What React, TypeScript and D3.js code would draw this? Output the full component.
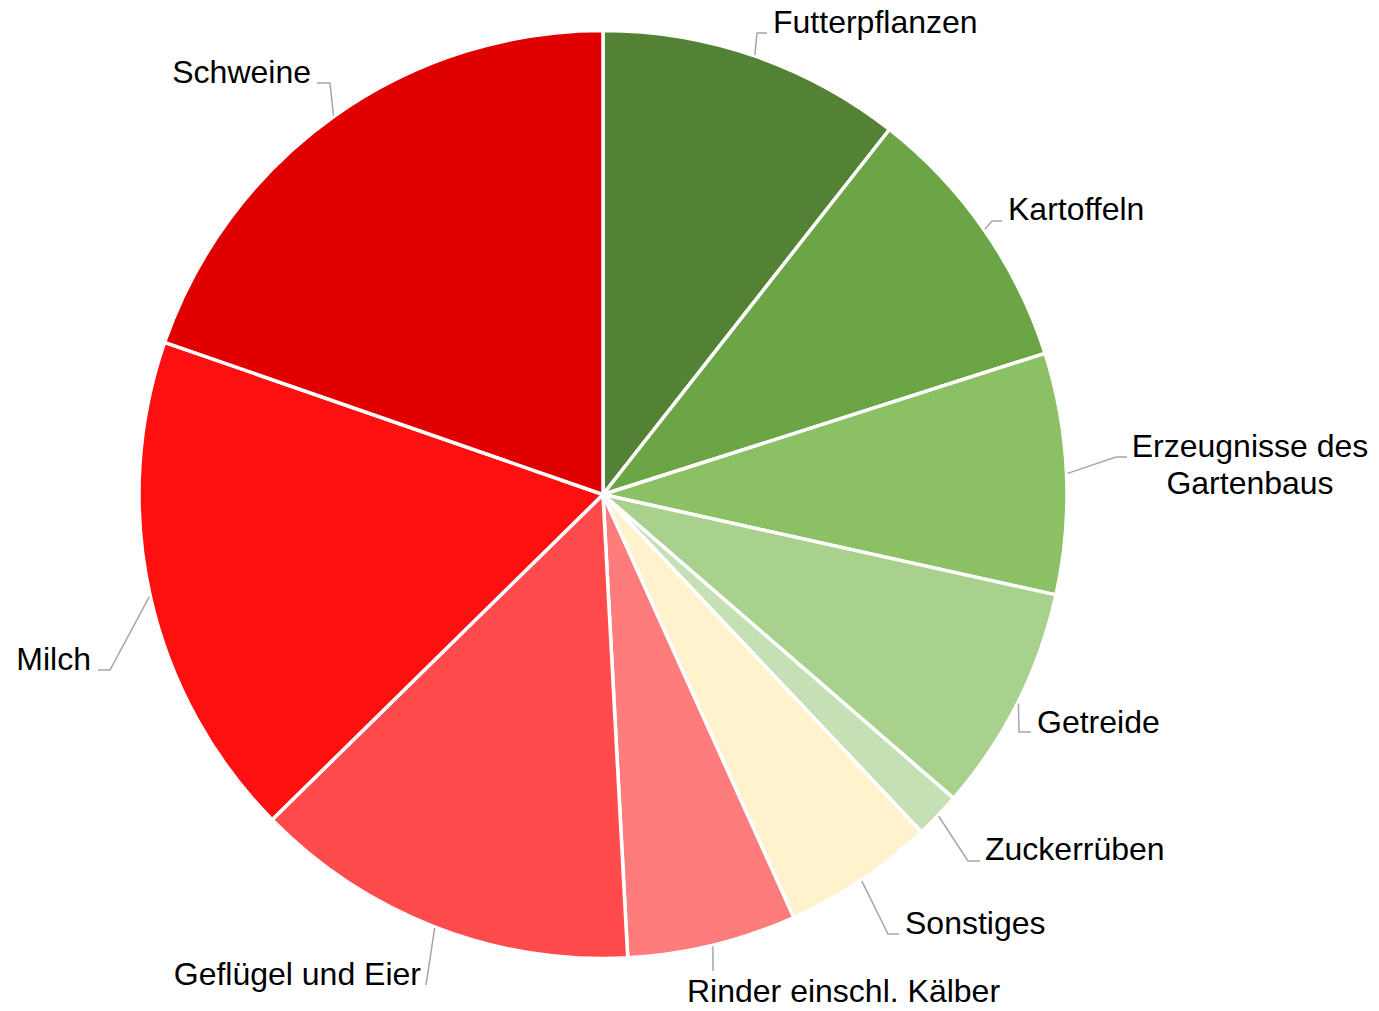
import React from "react";
import * as d3 from "d3";

const categories = [
  "Futterpflanzen",
  "Kartoffeln",
  "Erzeugnisse des Gartenbaus",
  "Getreide",
  "Zuckerrüben",
  "Sonstiges",
  "Rinder einschl. Kälber",
  "Geflügel und Eier",
  "Milch",
  "Schweine",
];
const values = [10.6, 9.5, 8.4, 7.9, 1.6, 5.3, 5.9, 13.5, 17.7, 19.7];
const labelTexts = [
  ["Futterpflanzen"],
  ["Kartoffeln"],
  ["Erzeugnisse des", "Gartenbaus"],
  ["Getreide"],
  ["Zuckerrüben"],
  ["Sonstiges"],
  ["Rinder einschl. Kälber"],
  ["Geflügel und Eier"],
  ["Milch"],
  ["Schweine"],
];
const colors = [
  "#548235",
  "#6ca545",
  "#8bc064",
  "#a9d18e",
  "#c5e0b4",
  "#fff2cc",
  "#ff7c7c",
  "#ff4b4b",
  "#ff1010",
  "#e00000",
];

// label layout (leader elbow, horizontal end, text anchor)
type Lay = { elbow: [number, number]; end: [number, number] | null; tx: number; ty: number; anchor: string };
const layout: Lay[] = [
  { elbow: [757, 33], end: [767, 33], tx: 773, ty: 33, anchor: "start" },
  { elbow: [992, 221], end: [1002, 221], tx: 1008, ty: 220, anchor: "start" },
  { elbow: [1116, 457], end: [1127, 457], tx: 1250, ty: 457, anchor: "middle" },
  { elbow: [1019, 732], end: [1031, 732], tx: 1037, ty: 733, anchor: "start" },
  { elbow: [968, 861], end: [980, 861], tx: 985, ty: 860, anchor: "start" },
  { elbow: [888, 934], end: [899, 934], tx: 905, ty: 934, anchor: "start" },
  { elbow: [713, 971], end: null, tx: 687, ty: 1002, anchor: "start" },
  { elbow: [426, 985], end: null, tx: 421, ty: 985, anchor: "end" },
  { elbow: [110, 670], end: [98, 670], tx: 91, ty: 670, anchor: "end" },
  { elbow: [330, 83], end: [317, 83], tx: 311, ty: 83, anchor: "end" },
];

const W = 1379;
const H = 1011;
const cx = 603;
const cy = 494.5;
const R = 464;

export default function App() {
  const data = categories.map((c, i) => ({ name: c, value: values[i] }));
  const pie = d3
    .pie<{ name: string; value: number }>()
    .sort(null)
    .value((d) => d.value)
    .startAngle(0)
    .endAngle(2 * Math.PI);
  const arcs = pie(data);
  const arc = d3
    .arc<d3.PieArcDatum<{ name: string; value: number }>>()
    .innerRadius(0)
    .outerRadius(R);

  return (
    <div style={{ position: "absolute", left: 0, top: 0 }}>
      <svg width={W} height={H} style={{ display: "block", background: "#fff" }}>
        <g transform={`translate(${cx},${cy})`}>
          {arcs.map((a, i) => (
            <path key={i} d={arc(a) || ""} fill={colors[i]} stroke="#ffffff" strokeWidth={3.5} strokeLinejoin="round" />
          ))}
        </g>
        {arcs.map((a, i) => {
          const mid = (a.startAngle + a.endAngle) / 2;
          const sx = cx + Math.sin(mid) * (R + 1);
          const sy = cy - Math.cos(mid) * (R + 1);
          const L = layout[i];
          const pts: [number, number][] = [[sx, sy], L.elbow];
          if (L.end) pts.push(L.end);
          const line = d3.line()(pts) || "";
          return <path key={"l" + i} d={line} fill="none" stroke="#a6a6a6" strokeWidth={1.5} />;
        })}
        {arcs.map((a, i) => {
          const L = layout[i];
          return (
            <text
              key={"t" + i}
              x={L.tx}
              y={L.ty}
              textAnchor={L.anchor}
              fontFamily="Liberation Sans, Arial, sans-serif"
              fontSize={32}
              fill="#000"
            >
              {labelTexts[i].map((t, j) => (
                <tspan key={j} x={L.tx} dy={j === 0 ? 0 : 37}>
                  {t}
                </tspan>
              ))}
            </text>
          );
        })}
      </svg>
    </div>
  );
}
